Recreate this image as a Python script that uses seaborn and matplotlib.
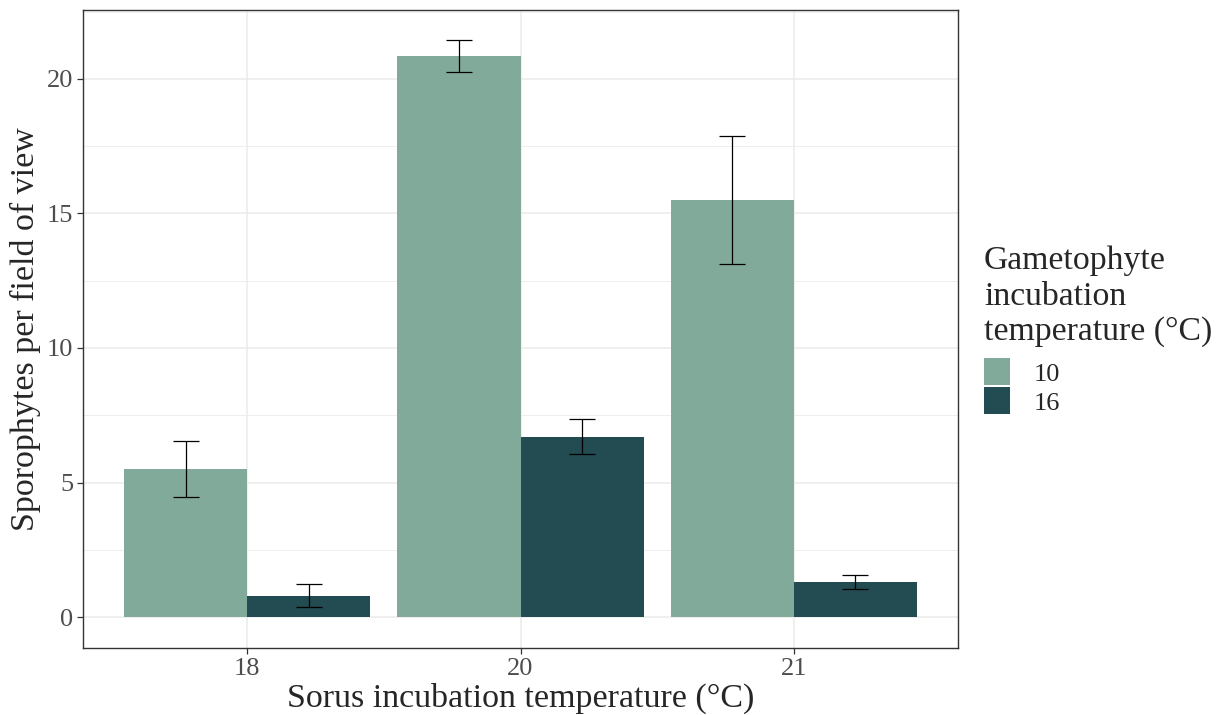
import numpy as np
import pandas as pd
import matplotlib
matplotlib.use("Agg")
import matplotlib.pyplot as plt
import matplotlib.patches as mpatches
import seaborn as sns
from matplotlib.ticker import MultipleLocator

# data
sorus_temp = ["18", "20", "21"]
gameto_temp = ["10", "16"]
mean_10 = [5.5, 20.85, 15.5]
mean_16 = [0.8, 6.7, 1.3]
se_10 = [1.05, 0.6, 2.38]
se_16 = [0.42, 0.65, 0.25]

palette = {"10": "#82AA9A", "16": "#234B52"}

df = pd.DataFrame({
    "sorus": sorus_temp * 2,
    "gameto": ["10"] * 3 + ["16"] * 3,
    "mean": mean_10 + mean_16,
    "se": se_10 + se_16,
})

sns.set_style("white")
plt.rcParams["font.family"] = ["Liberation Serif", "DejaVu Serif"]

fig = plt.figure(figsize=(12.27, 7.15), dpi=100)
ax = fig.add_axes([83 / 1227, (715 - 648) / 715, 875 / 1227, 638 / 715])

sns.barplot(data=df, x="sorus", y="mean", hue="gameto", order=sorus_temp,
            hue_order=gameto_temp, palette=palette, width=0.9, gap=0,
            saturation=1, linewidth=0, errorbar=None, legend=False, ax=ax,
            zorder=3)

# error bars at the centre of each bar
for i, g in enumerate(gameto_temp):
    sub = df[df["gameto"] == g].set_index("sorus").loc[sorus_temp]
    xs = np.arange(len(sorus_temp)) + (-0.225 if i == 0 else 0.225)
    ax.errorbar(xs, sub["mean"], yerr=sub["se"], fmt="none", ecolor="black",
                elinewidth=0.9, capsize=9.7, capthick=0.9, zorder=4)

ax.set_xlim(-0.6, 2.6)
ax.set_ylim(-1.15, 22.56)
ax.yaxis.set_major_locator(MultipleLocator(5))
ax.yaxis.set_minor_locator(MultipleLocator(2.5))
ax.grid(True, which="major", color="#EBEBEB", linewidth=1.1, zorder=0)
ax.grid(True, which="minor", axis="y", color="#EBEBEB", linewidth=0.6, zorder=0)
ax.set_axisbelow(True)

for s in ax.spines.values():
    s.set_color("#333333")
    s.set_linewidth(1.0)
    s.set_visible(True)

ax.tick_params(axis="both", which="major", length=4, width=0.9, color="#333333",
               labelsize=19, labelcolor="#4D4D4D", left=True, bottom=True, pad=3)
ax.tick_params(axis="y", which="minor", length=0)

ax.set_xlabel("Sorus incubation temperature (\u00b0C)", fontsize=24.5, labelpad=2)
ax.set_ylabel("Sporophytes per field of view", fontsize=24.5, labelpad=4)

handles = [mpatches.Patch(facecolor=palette[g], edgecolor="none", label=g)
           for g in gameto_temp]
leg = fig.legend(handles=handles, title="Gametophyte\nincubation\ntemperature (\u00b0C)",
                 loc="upper left", bbox_to_anchor=(984 / 1227, 1 - 246 / 715),
                 frameon=False, fontsize=19, title_fontsize=24.3,
                 handlelength=1.0, handleheight=1.2, handletextpad=0.9,
                 labelspacing=0.05, borderaxespad=0, borderpad=0)
leg._legend_box.align = "left"
leg._legend_box.sep = 8

fig.savefig("out.png", dpi=100)
